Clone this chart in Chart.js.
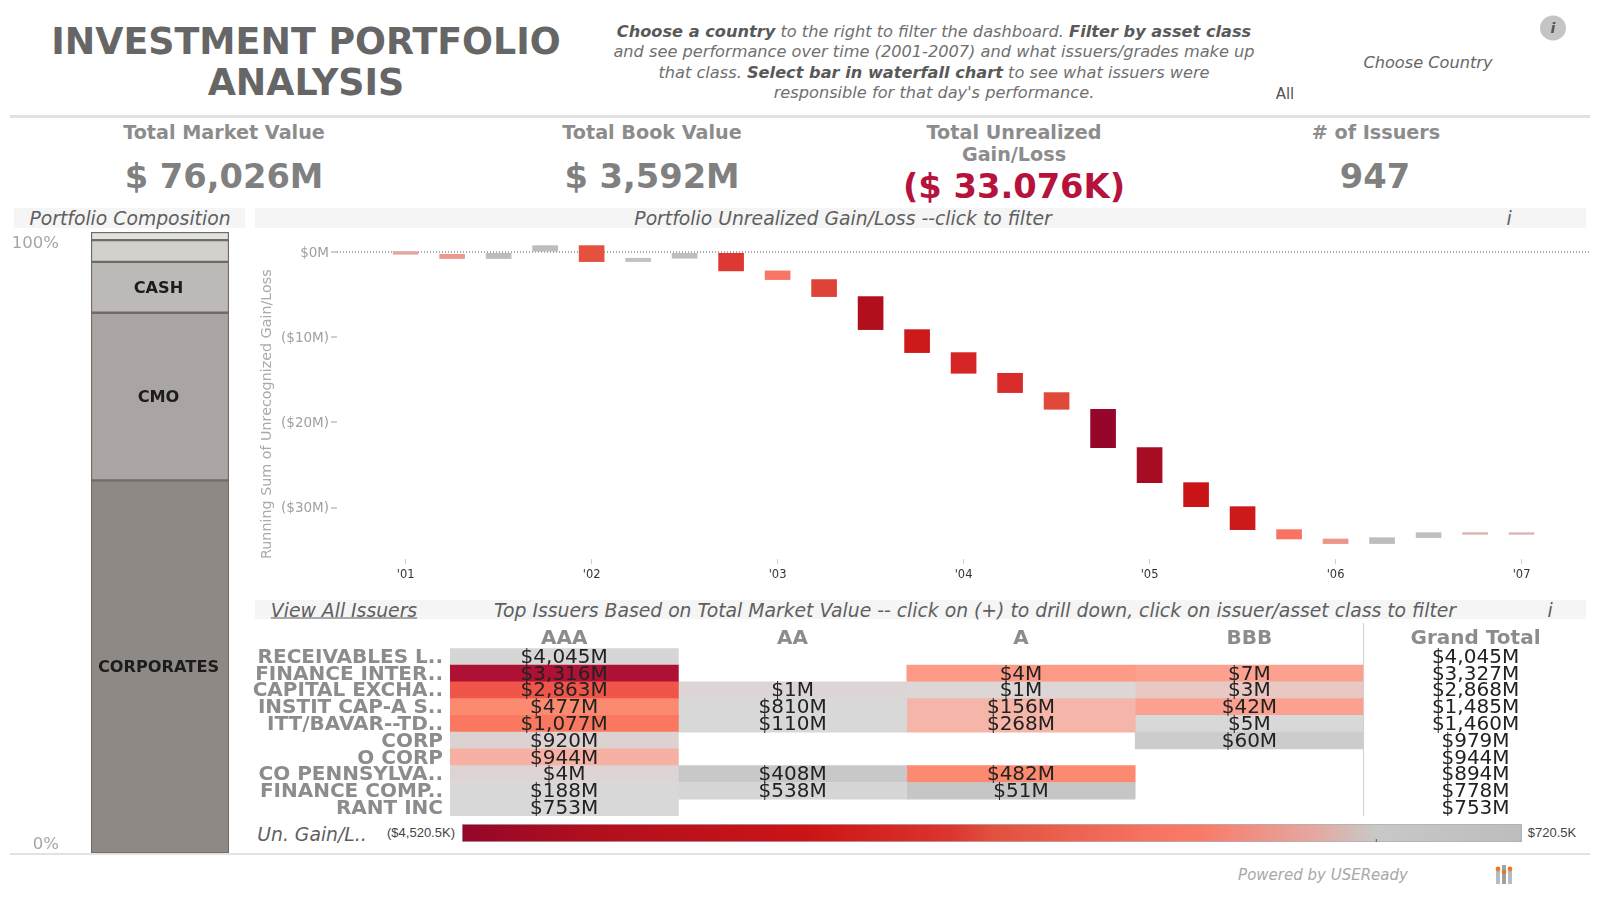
<!DOCTYPE html>
<html lang="en">
<head>
<meta charset="UTF-8">
<title>Investment Portfolio Analysis</title>
<script src="https://cdn.jsdelivr.net/npm/chart.js"></script>
<style>
    html, body { margin: 0; padding: 0; background: #fff; width: 1600px; height: 900px; overflow: hidden; }
    body { font-family: "DejaVu Sans", sans-serif; position: relative; }
    .t { position: absolute; white-space: nowrap; transform: translate(-50%, -50%); text-align: center; }
    .band { position: absolute; background: #f5f5f5; left: 255px; width: 1331px; }
    .rule { position: absolute; left: 10px; width: 1580px; background: #e2e2e2; }
    .kpi-title { font-size: 19.2px; font-weight: bold; color: #8c8c8c; line-height: 22px; }
    .kpi-value { font-size: 33.7px; font-weight: bold; color: #808080; }
    .panel { font-size: 18.8px; font-style: italic; color: #5f5f5f; }
    canvas { position: absolute; display: block; }
    .desc { font-size: 16.2px; font-style: oblique; color: #707070; line-height: 20.3px; }
    .desc b { color: #595959; }
</style>
</head>
<body>
    <div class="t" style="left:306px;top:62px;font-size:36.4px;font-weight:bold;color:#666;line-height:41px;">INVESTMENT PORTFOLIO<br>ANALYSIS</div>
    <div class="t desc" style="left:934px;top:63px;"><b>Choose a country</b> to the right to filter the dashboard. <b>Filter by asset class</b><br>and see performance over time (2001-2007) and what issuers/grades make up<br>that class. <b>Select bar in waterfall chart</b> to see what issuers were<br>responsible for that day's performance.</div>
    <div class="t" style="left:1428px;top:62px;font-size:16.2px;font-style:italic;color:#666;">Choose Country</div>
    <div class="t" style="left:1285px;top:94px;font-size:15px;color:#555;">All</div>
    <div class="t" style="left:1553px;top:28px;width:26px;height:25px;line-height:25px;border-radius:50%;background:#c4c4c4;font-size:14px;font-style:italic;font-weight:bold;color:#555;">i</div>
    <div class="rule" style="top:115px;height:3px;"></div>

    <div class="t kpi-title" style="left:224px;top:133px;">Total Market Value</div>
    <div class="t kpi-value" style="left:224px;top:176px;">$ 76,026M</div>
    <div class="t kpi-title" style="left:652px;top:133px;">Total Book Value</div>
    <div class="t kpi-value" style="left:652px;top:176px;">$ 3,592M</div>
    <div class="t kpi-title" style="left:1014px;top:144px;">Total Unrealized<br>Gain/Loss</div>
    <div class="t kpi-value" style="left:1014px;top:186px;color:#b5123c;">($ 33.076K)</div>
    <div class="t kpi-title" style="left:1376px;top:133px;"># of Issuers</div>
    <div class="t kpi-value" style="left:1375px;top:176px;">947</div>

    <div class="band" style="left:14px;width:231px;top:208px;height:20px;"></div>
    <div class="t panel" style="left:130px;top:218px;">Portfolio Composition</div>
    <div class="band" style="top:208px;height:20px;"></div>
    <div class="t panel" style="left:843px;top:218px;">Portfolio Unrealized Gain/Loss --click to filter</div>
    <div class="t panel" style="left:1509px;top:218px;">i</div>

    <canvas id="compositionChart" width="245" height="621" style="left:0;top:232px;"></canvas>
    <canvas id="waterfallChart" width="1335" height="353" style="left:255px;top:232px;"></canvas>

    <div class="band" style="top:600px;height:19px;"></div>
    <div class="t panel" style="left:344px;top:610px;text-decoration:underline;">View All Issuers</div>
    <div class="t panel" style="left:975px;top:610px;">Top Issuers Based on Total Market Value -- click on (+) to drill down, click on issuer/asset class to filter</div>
    <div class="t panel" style="left:1550px;top:610px;">i</div>

    <canvas id="heatChart" width="1347" height="196" style="left:245px;top:620px;"></canvas>

    <div class="t panel" style="left:312px;top:834px;">Un. Gain/L..</div>
    <div class="t" id="legendMin" style="left:421px;top:832px;font:13px 'Liberation Sans';color:#444;"></div>
    <div class="t" id="legendMax" style="left:1552px;top:832px;font:13px 'Liberation Sans';color:#444;"></div>
    <canvas id="legendChart" width="1060" height="18" style="left:462px;top:824px;"></canvas>

    <div class="rule" style="top:853px;height:2px;"></div>
    <div class="t" style="left:1323px;top:875px;font-size:15px;font-style:italic;color:#a8a8a8;">Powered by USEReady</div>
    <svg style="position:absolute;left:1494px;top:862px;" width="20" height="22">
        <rect x="2" y="9" width="4" height="13" fill="#b6bcc4"/>
        <rect x="8" y="3" width="4" height="19" fill="#9aa2ac"/>
        <rect x="14" y="9" width="4" height="13" fill="#b6bcc4"/>
        <circle cx="4" cy="7" r="2.4" fill="#e8792b"/>
        <circle cx="16" cy="7" r="2.4" fill="#e8792b"/>
        <circle cx="10" cy="10" r="2.4" fill="#e8792b"/>
    </svg>

    <script>
        // composition, bottom to top
        const assetClasses = ['CORPORATES', 'CMO', 'CASH', '', ''];
        const assetShares = [60.0, 27.0, 8.2, 3.5, 1.3];
        const assetColors = ['#8f8986', '#aaa5a2', '#bdb9b6', '#d3d0cd', '#e4e2de'];
        const shareTicks = [0, 100];
        const shareTickLabels = ['0%', '100%'];

        // waterfall, one bar per quarter ($M, running sum at open and close)
        const quarters = [2001, 2001.25, 2001.5, 2001.75, 2002, 2002.25, 2002.5, 2002.75, 2003, 2003.25, 2003.5, 2003.75,
            2004, 2004.25, 2004.5, 2004.75, 2005, 2005.25, 2005.5, 2005.75, 2006, 2006.25, 2006.5, 2006.75, 2007];
        const runningOpen = [0.08, -0.24, -0.74, 0.0, 0.78, -1.10, -0.70, -0.12, -2.19, -3.21, -5.21, -9.09,
            -11.79, -14.22, -16.49, -18.45, -22.95, -27.07, -29.89, -32.59, -33.69, -34.23, -33.53, -32.94, -32.95];
        const runningClose = [-0.24, -0.74, 0.0, 0.78, -1.10, -0.70, -0.12, -2.19, -3.21, -5.21, -9.09, -11.79,
            -14.22, -16.49, -18.45, -22.95, -27.07, -29.89, -32.59, -33.69, -34.23, -33.53, -32.94, -33.14, -33.14];
        const yearTicks = [2001, 2002, 2003, 2004, 2005, 2006, 2007];
        const yearLabels = ["'01", "'02", "'03", "'04", "'05", "'06", "'07"];
        const gainTicks = [0, -10, -20, -30];
        const gainLabels = ['$0M', '($10M)', '($20M)', '($30M)'];

        // heat table, market value in $M
        const issuers = ['RECEIVABLES L..', 'FINANCE INTER..', 'CAPITAL EXCHA..', 'INSTIT CAP-A S..', 'ITT/BAVAR--TD..',
            'CORP', 'O CORP', 'CO PENNSYLVA..', 'FINANCE COMP..', 'RANT INC'];
        const grades = ['AAA', 'AA', 'A', 'BBB', 'Grand Total'];
        const aaaValues = [4045, 3316, 2863, 477, 1077, 920, 944, 4, 188, 753];
        const aaValues = [null, null, 1, 810, 110, null, null, 408, 538, null];
        const aValues = [null, 4, 1, 156, 268, null, null, 482, 51, null];
        const bbbValues = [null, 7, 3, 42, 5, 60, null, null, null, null];
        const grandTotals = [4045, 3327, 2868, 1485, 1460, 979, 944, 894, 778, 753];

        const aaaColors = ['#d6d6d6', '#ae1133', '#ef5548', '#fc8a70', '#fa7860', '#dcd2d2', '#f6b0a4', '#dfd4d4', '#d8d8d8', '#d8d8d8'];
        const aaColors = [null, null, '#ddd5d5', '#d8d8d8', '#d8d8d8', null, null, '#c8c8c8', '#d6d6d6', null];
        const aColors = [null, '#fc9a86', '#dcd6d6', '#f5b5a8', '#f5b5a8', null, null, '#fc8a70', '#c6c6c6', null];
        const bbbColors = [null, '#fca090', '#e8c8c2', '#fca090', '#d8d8d8', '#cccccc', null, null, null, null];

        // colour legend, $K at the ends
        const legendMin = -4520.5;
        const legendMax = 720.5;
        const rampValues = [-4.52, -3.9, -2.8, -2.1, -1.9, -1.1, -0.87, -0.3, 0, 0.72];
        const rampColors = ['#95062a', '#b00f1e', '#cc1417', '#dc3530', '#e2503e', '#f87462', '#f97a68', '#e3a9a2', '#c8c8c8', '#bdbdbd'];

        const money = v => '$' + v.toLocaleString('en-US') + 'M';
        const kilo = v => v < 0 ? '($' + (-v).toLocaleString('en-US', { minimumFractionDigits: 1 }) + 'K)' : '$' + v.toLocaleString('en-US', { minimumFractionDigits: 1 }) + 'K';

        function hexToRgb(h) {
            return [1, 3, 5].map(i => parseInt(h.slice(i, i + 2), 16));
        }

        function rampColor(change) {
            if (change <= rampValues[0]) return rampColors[0];
            for (let i = 1; i < rampValues.length; i++) {
                if (change <= rampValues[i]) {
                    const f = (change - rampValues[i - 1]) / (rampValues[i] - rampValues[i - 1]);
                    const a = hexToRgb(rampColors[i - 1]);
                    const b = hexToRgb(rampColors[i]);
                    return 'rgb(' + a.map((c, k) => Math.round(c + (b[k] - c) * f)).join(',') + ')';
                }
            }
            return rampColors[rampColors.length - 1];
        }

        // Chart.js keeps room for half a tick label otherwise
        function fitAxis(scale, size) {
            if (scale.isHorizontal()) scale.height = size; else scale.width = size;
            scale.paddingTop = scale.paddingBottom = scale.paddingLeft = scale.paddingRight = 0;
        }

        Chart.defaults.font.family = '"DejaVu Sans"';
        Chart.defaults.animation = false;
        Chart.defaults.responsive = false;
        Chart.defaults.devicePixelRatio = 1;
        Chart.defaults.plugins.legend.display = false;
        Chart.defaults.plugins.tooltip.enabled = false;

        new Chart(document.getElementById('compositionChart'), {
            type: 'bar',
            data: {
                labels: ['Share'],
                datasets: assetClasses.map((name, i) => ({
                    label: name,
                    data: [assetShares[i]],
                    backgroundColor: assetColors[i],
                    borderColor: '#6f6b69',
                    borderWidth: 1.5,
                    borderSkipped: false,
                    barPercentage: 1,
                    categoryPercentage: 1
                }))
            },
            options: {
                layout: { padding: { left: 91, right: 16 } },
                scales: {
                    x: { stacked: true, display: false },
                    y: { stacked: true, display: false, min: 0, max: 100 }
                }
            },
            plugins: [{
                id: 'compositionLabels',
                afterDatasetsDraw(chart) {
                    const c = chart.ctx;
                    const y = chart.scales.y;
                    c.save();
                    c.textBaseline = 'middle';
                    c.textAlign = 'center';
                    c.font = 'bold 16.2px "DejaVu Sans"';
                    c.fillStyle = '#1c1c1c';
                    assetClasses.forEach((name, i) => {
                        const bar = chart.getDatasetMeta(i).data[0];
                        if (name) c.fillText(name, bar.x - 1.5, (bar.y + bar.base) / 2 + 1.5);
                    });
                    // the labels sit just inside the ends of the axis
                    c.textAlign = 'right';
                    c.font = '16.5px "DejaVu Sans"';
                    c.fillStyle = '#a6a6a6';
                    shareTicks.forEach((t, i) => {
                        const inset = t === 0 ? -8 : 12;
                        c.fillText(shareTickLabels[i], 59, y.getPixelForValue(t) + inset);
                    });
                    c.restore();
                }
            }]
        });

        new Chart(document.getElementById('waterfallChart'), {
            type: 'bar',
            data: {
                datasets: [{
                    data: quarters.map((q, i) => ({ x: q, y: [runningOpen[i], runningClose[i]] })),
                    backgroundColor: quarters.map((q, i) => rampColor(runningClose[i] - runningOpen[i])),
                    borderSkipped: false,
                    barThickness: 25
                }]
            },
            options: {
                scales: {
                    x: {
                        type: 'linear',
                        offset: false,
                        min: 2000.631,
                        max: 2007.368,
                        afterBuildTicks: s => { s.ticks = yearTicks.map(v => ({ value: v })); },
                        afterFit: s => fitAxis(s, 26),
                        border: { display: false },
                        grid: { offset: false, drawOnChartArea: false, tickLength: 5, tickColor: '#cfcfcf' },
                        ticks: {
                            callback: v => yearLabels[yearTicks.indexOf(v)],
                            font: { size: 11.5 },
                            color: '#333',
                            padding: 4,
                            maxRotation: 0,
                            autoSkip: false
                        }
                    },
                    y: {
                        min: -36.04,
                        max: 2.38,
                        afterBuildTicks: s => { s.ticks = gainTicks.map(v => ({ value: v })); },
                        afterFit: s => fitAxis(s, 82),
                        title: {
                            display: true,
                            text: 'Running Sum of Unrecognized Gain/Loss',
                            align: 'start',
                            font: { size: 14.3 },
                            color: '#aaa',
                            padding: { top: 4, bottom: 0 }
                        },
                        border: { display: false, dash: [1, 2] },
                        grid: {
                            color: c => c.tick && c.tick.value === 0 ? '#a8a8a8' : 'transparent',
                            lineWidth: 2,
                            tickColor: '#cfcfcf',
                            tickLength: 6
                        },
                        ticks: {
                            callback: v => gainLabels[gainTicks.indexOf(v)],
                            font: { size: 13.5 },
                            color: '#a0a0a0',
                            padding: 2,
                            labelOffset: 1
                        }
                    }
                }
            }
        });

        const gradeValues = [aaaValues, aaValues, aValues, bbbValues, grandTotals];
        const gradeColors = [aaaColors, aaColors, aColors, bbbColors, []];
        // the totals column sits a touch left of the scale's centre
        const columnCentre = g => g === 4 ? 4.49 : g + 0.5;

        new Chart(document.getElementById('heatChart'), {
            type: 'bar',
            data: {
                labels: issuers,
                datasets: gradeValues.slice(0, 4).map((vals, g) => ({
                    label: grades[g],
                    data: vals.map(v => v === null ? null : [g, g + 1]),
                    backgroundColor: gradeColors[g],
                    barPercentage: 1,
                    categoryPercentage: 1,
                    grouped: false
                }))
            },
            options: {
                indexAxis: 'y',
                scales: {
                    x: {
                        type: 'linear',
                        position: 'top',
                        offset: false,
                        min: 0,
                        max: 5,
                        afterBuildTicks: s => { s.ticks = grades.map((g, i) => ({ value: columnCentre(i) })); },
                        afterFit: s => fitAxis(s, 28.3),
                        border: { display: false },
                        grid: { display: false, drawTicks: false },
                        ticks: {
                            callback: v => grades[Math.floor(v)],
                            font: { size: 20, weight: 'bold' },
                            color: '#8c8c8c',
                            padding: -2,
                            maxRotation: 0,
                            autoSkip: false
                        }
                    },
                    y: {
                        afterFit: s => fitAxis(s, 205),
                        border: { display: false },
                        grid: { display: false, drawTicks: false },
                        ticks: {
                            font: { size: 20, weight: 'bold' },
                            color: '#8c8c8c',
                            padding: 7,
                            labelOffset: 1,
                            autoSkip: false
                        }
                    }
                }
            },
            plugins: [{
                id: 'cellLabels',
                afterDatasetsDraw(chart) {
                    const c = chart.ctx;
                    const { x, y } = chart.scales;
                    c.save();
                    // separator before the totals
                    c.strokeStyle = '#cfcfcf';
                    c.lineWidth = 1;
                    c.beginPath();
                    c.moveTo(x.getPixelForValue(4), 3);
                    c.lineTo(x.getPixelForValue(4), chart.chartArea.bottom);
                    c.stroke();
                    c.textAlign = 'center';
                    c.textBaseline = 'middle';
                    c.font = '20px "DejaVu Sans"';
                    c.fillStyle = '#222';
                    gradeValues.forEach((vals, g) => {
                        vals.forEach((v, r) => {
                            if (v !== null) c.fillText(money(v), x.getPixelForValue(columnCentre(g)), y.getPixelForValue(r) + 1);
                        });
                    });
                    c.restore();
                }
            }]
        });

        document.getElementById('legendMin').textContent = kilo(legendMin);
        document.getElementById('legendMax').textContent = kilo(legendMax);

        new Chart(document.getElementById('legendChart'), {
            type: 'bar',
            data: {
                labels: ['Un. Gain/Loss'],
                datasets: [{
                    data: [[legendMin, legendMax]],
                    barPercentage: 1,
                    categoryPercentage: 1,
                    borderColor: '#b0b0b0',
                    borderWidth: 1,
                    borderSkipped: false,
                    backgroundColor: ctx => {
                        const area = ctx.chart.chartArea;
                        if (!area) return '#c8c8c8';
                        const g = ctx.chart.ctx.createLinearGradient(area.left, 0, area.right, 0);
                        rampValues.forEach((v, i) => {
                            g.addColorStop((v * 1000 - legendMin) / (legendMax - legendMin), rampColors[i]);
                        });
                        return g;
                    }
                }]
            },
            options: {
                indexAxis: 'y',
                scales: {
                    x: { type: 'linear', display: false, min: legendMin, max: legendMax },
                    y: { display: false }
                }
            },
            plugins: [{
                id: 'zeroMark',
                afterDatasetsDraw(chart) {
                    const c = chart.ctx;
                    const px = chart.scales.x.getPixelForValue(0);
                    c.fillStyle = '#555';
                    c.fillRect(px - 0.5, chart.chartArea.bottom - 3, 1, 3);
                }
            }]
        });
    </script>
</body>
</html>
